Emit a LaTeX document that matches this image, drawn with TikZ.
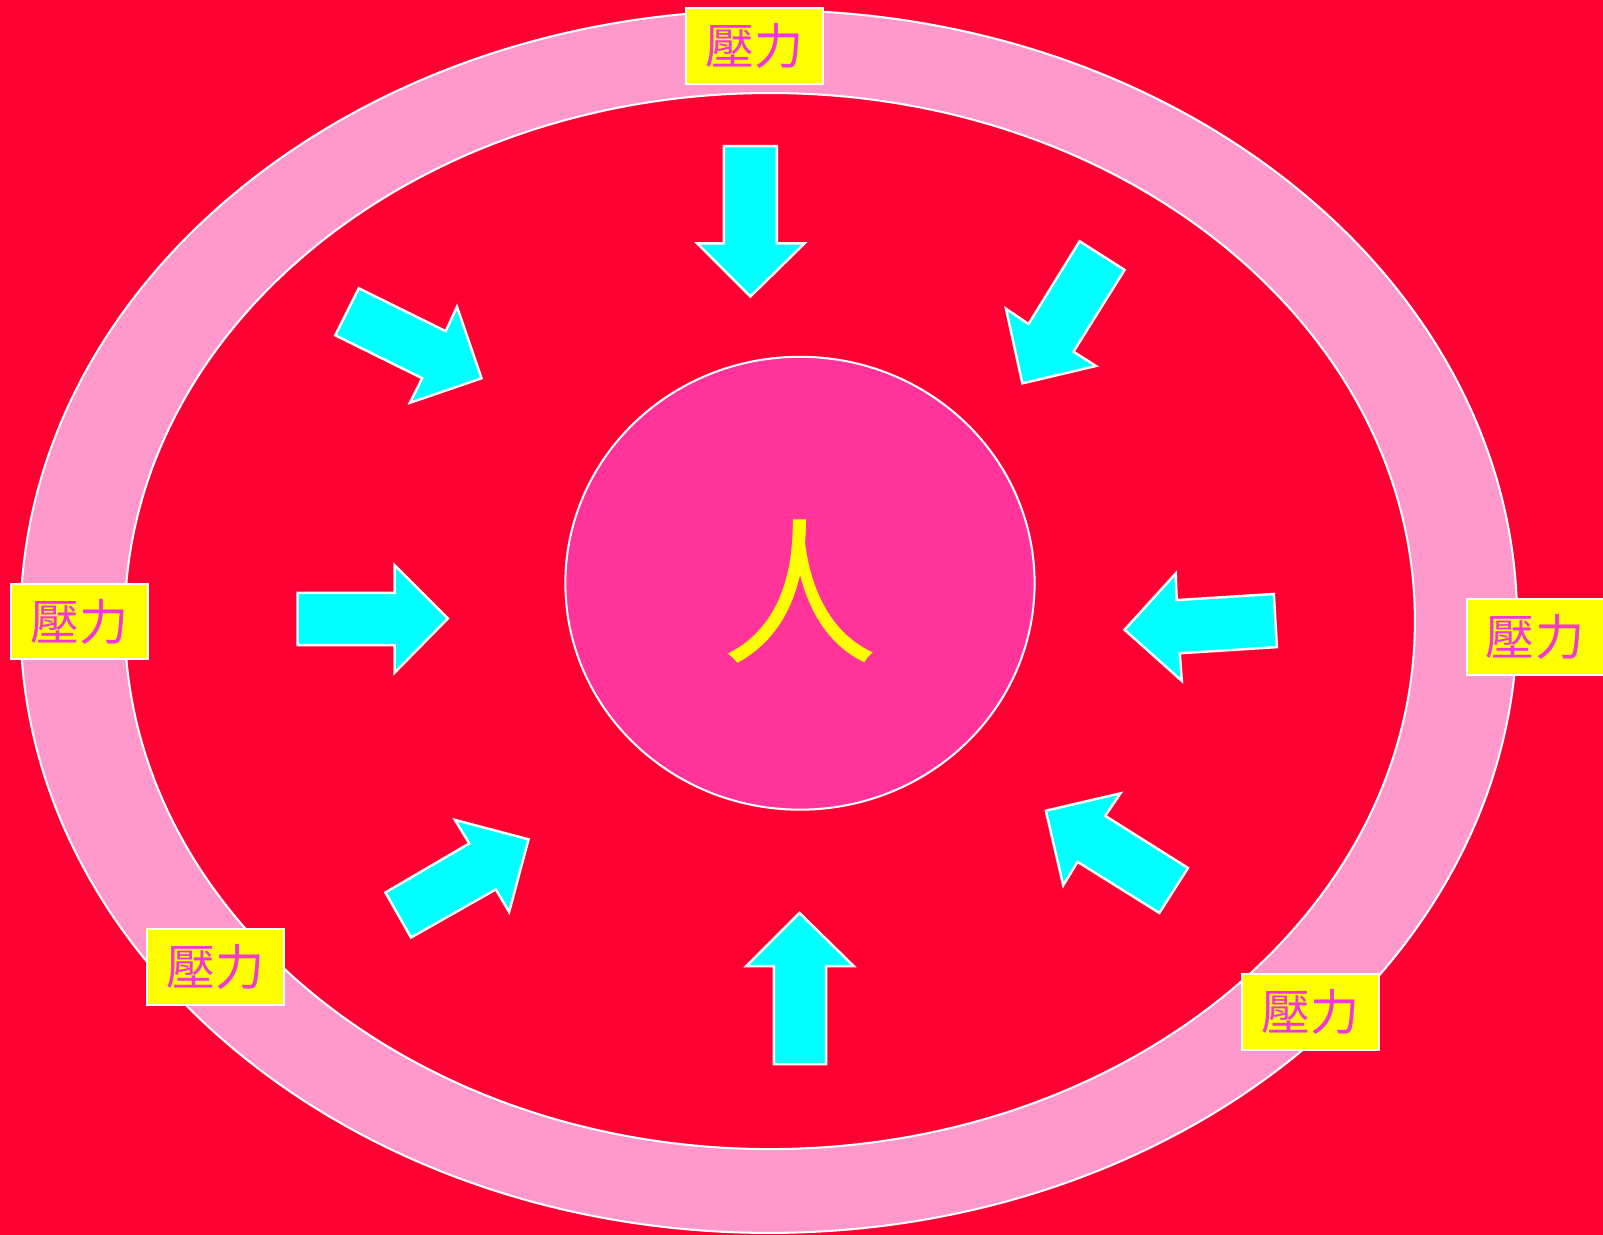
\documentclass[tikz,border=0pt]{standalone}
\usepackage{fontspec}
\newfontfamily\cjk{Noto Sans CJK TC}
\definecolor{bgred}{RGB}{255,0,51}
\definecolor{ringpink}{RGB}{255,153,204}
\definecolor{corepink}{RGB}{255,51,153}
\definecolor{arrowcyan}{RGB}{0,255,255}
\definecolor{labelyellow}{RGB}{255,255,0}
\definecolor{labeltext}{RGB}{240,55,215}
\tikzset{
  ringline/.style={draw=white, line width=1pt},
  arrowshape/.style={fill=arrowcyan, draw=white, line width=1.2pt, line join=miter},
  stresslabel/.style={fill=labelyellow, draw=white, line width=1pt, minimum width=67pt, minimum height=37pt, inner sep=0pt, font=\cjk\fontsize{24}{24}\selectfont, text=labeltext},
}
\begin{document}
\begin{tikzpicture}[x=0.5pt,y=-0.5pt]
\fill[bgred] (0,0) rectangle (1568,1208);
\useasboundingbox (0,0) rectangle (1568,1208);
% rings
\draw[ringline, fill=ringpink] (752,608) ellipse [x radius=732, y radius=598];
\draw[ringline, fill=bgred] (753,607.5) ellipse [x radius=631, y radius=516.5];
% core
\draw[ringline, fill=corepink] (782.5,570.5) ellipse [x radius=229.5, y radius=221.5];
\node[font=\cjk\fontsize{77}{77}\selectfont, text=labelyellow, inner sep=0pt] (person) at (783,579) {人};
% arrows
\draw[arrowshape] (708,143) -- (760,143) -- (760,238) -- (787,238) -- (734,290) -- (682,238) -- (708,238) -- cycle;
\draw[arrowshape] (782,893) -- (835,945) -- (808,945) -- (808,1041) -- (757,1041) -- (757,945) -- (730,945) -- cycle;
\draw[arrowshape] (291,580) -- (386,580) -- (386,553) -- (438,605) -- (386,658) -- (386,631) -- (291,631) -- cycle;
\draw[arrowshape] (1100,616) -- (1150,561) -- (1151,587) -- (1246,581) -- (1249,633) -- (1154,639) -- (1156,666) -- cycle;
\draw[arrowshape] (351,282) -- (436,324) -- (447,300) -- (471,370) -- (401,394) -- (413,370) -- (328,328) -- cycle;
\draw[arrowshape] (1056,236) -- (1100,264) -- (1050,344) -- (1072,358) -- (1000,375) -- (984,302) -- (1006,317) -- cycle;
\draw[arrowshape] (377,873) -- (459,825) -- (445,802) -- (517,821) -- (498,892) -- (485,870) -- (402,917) -- cycle;
\draw[arrowshape] (1162,849) -- (1081,798) -- (1096,776) -- (1023,793) -- (1040,866) -- (1054,843) -- (1134,893) -- cycle;
% labels
\node[stresslabel] (ltop) at (738,45) {壓力};
\node[stresslabel] (lleft) at (78,608) {壓力};
\node[stresslabel] (lright) at (1501.5,623) {壓力};
\node[stresslabel] (lbl) at (210.5,946) {壓力};
\node[stresslabel] (lbr) at (1281.5,990) {壓力};
\end{tikzpicture}
\end{document}
